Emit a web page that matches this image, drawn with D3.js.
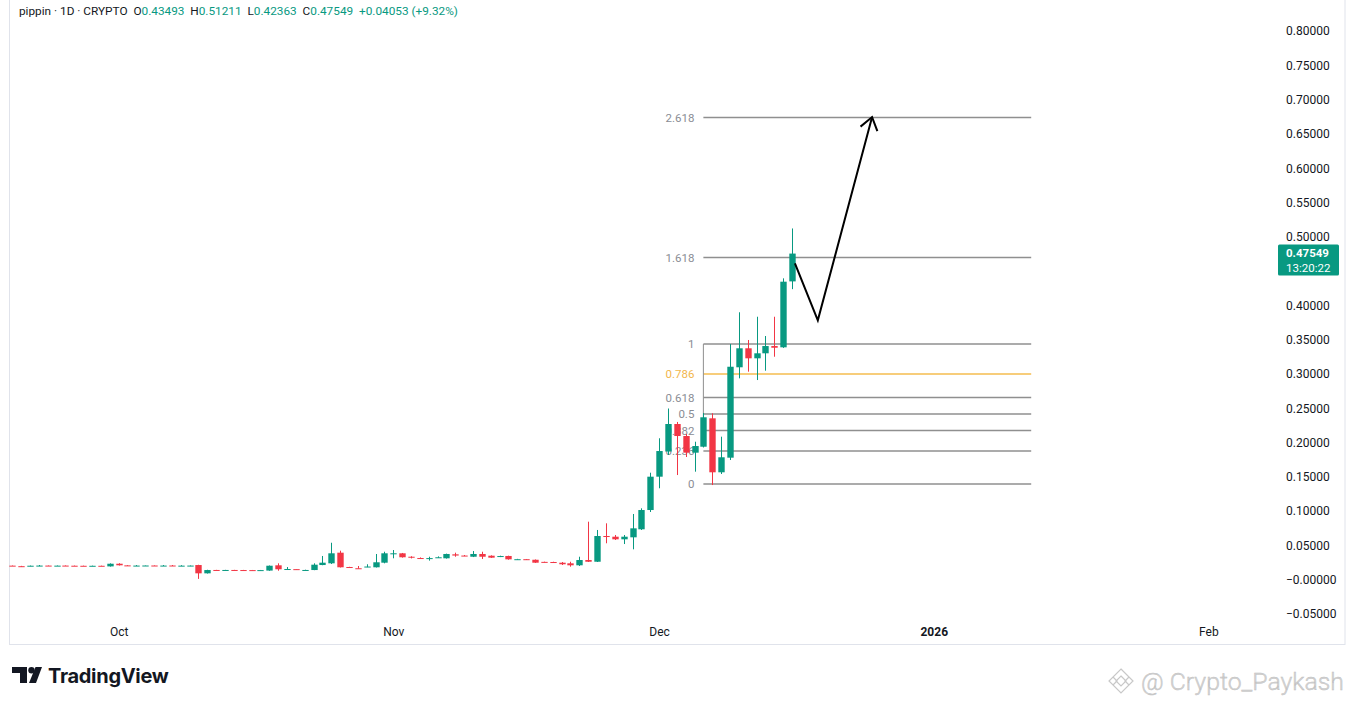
<!DOCTYPE html>
<html>
<head>
<meta charset="utf-8">
<script src="https://cdn.jsdelivr.net/npm/d3@7/dist/d3.min.js"></script>
<style>
  html, body { margin: 0; padding: 0; background: #ffffff; }
  svg { display: block; }
  text { font-family: Roboto, "Noto Sans", sans-serif; }
</style>
</head>
<body>
<svg id="chart" width="1354" height="705"></svg>
<script>
// ---------------- DATA ----------------
const startDate = "2025-09-19";
const endDate = "2025-12-16";
const openVals = [
  0.0205,0.0197,0.0199,0.0205,0.0206,0.0202,0.0206,0.0204,0.0203,0.0200,0.0203,0.0194,
  0.0233,0.0209,0.0203,0.0205,0.0207,0.0203,0.0207,0.0202,0.0205,0.0214,0.0093,0.0142,
  0.0140,0.0142,0.0141,0.0140,0.0138,0.0133,0.0210,0.0152,0.0154,0.0140,0.0141,0.0214,
  0.0239,0.0394,0.0185,0.0167,0.0186,0.0181,0.0248,
  0.0375,0.0385,0.0335,0.0316,0.0313,0.0325,0.0312,0.0370,0.0352,0.0335,0.0375,0.0350,
  0.0335,0.0346,0.0297,0.0299,0.0291,0.0260,0.0258,0.0248,0.0239,0.0210,0.0287,0.0262,
  0.0637,0.0627,0.0589,0.0618,0.0735,0.1016,
  0.1502,0.1869,0.2270,0.2095,0.1852,0.1939,0.2353,0.1566,0.1779,0.3097,0.3374,0.3228,
  0.3301,0.3407,0.3388,0.43493
];
const highVals = [
  0.0208,0.0202,0.0206,0.0214,0.0208,0.0207,0.0208,0.0206,0.0205,0.0205,0.0205,0.0238,
  0.0240,0.0212,0.0213,0.0209,0.0209,0.0214,0.0214,0.0211,0.0207,0.0218,0.0145,0.0144,
  0.0144,0.0144,0.0143,0.0142,0.0142,0.0207,0.0239,0.0185,0.0156,0.0146,0.0239,0.0346,
  0.0539,0.0423,0.0188,0.0200,0.0225,0.0375,0.0408,
  0.0433,0.0390,0.0342,0.0325,0.0335,0.0340,0.0380,0.0394,0.0360,0.0418,0.0408,0.0355,
  0.0350,0.0350,0.0304,0.0302,0.0295,0.0263,0.0262,0.0258,0.0262,0.0335,0.0846,0.0725,
  0.0822,0.0652,0.0652,0.0958,0.1041,0.1560,
  0.2062,0.2496,0.2300,0.2124,0.2012,0.2430,0.2426,0.2085,0.3436,0.3899,0.3495,0.3834,
  0.3553,0.3834,0.4394,0.51211
];
const lowVals = [
  0.0201,0.0190,0.0197,0.0198,0.0201,0.0200,0.0200,0.0199,0.0199,0.0198,0.0198,0.0191,
  0.0207,0.0201,0.0199,0.0203,0.0201,0.0200,0.0200,0.0199,0.0198,0.0012,0.0090,0.0138,
  0.0138,0.0138,0.0137,0.0136,0.0136,0.0130,0.0131,0.0148,0.0150,0.0138,0.0139,0.0211,
  0.0229,0.0178,0.0176,0.0161,0.0183,0.0178,0.0239,
  0.0312,0.0322,0.0310,0.0305,0.0278,0.0318,0.0308,0.0335,0.0344,0.0330,0.0302,0.0318,
  0.0330,0.0292,0.0293,0.0292,0.0245,0.0252,0.0250,0.0214,0.0190,0.0200,0.0258,0.0258,
  0.0531,0.0579,0.0520,0.0443,0.0725,0.0987,
  0.1333,0.1818,0.1526,0.1789,0.1575,0.1930,0.1380,0.1541,0.1745,0.2936,0.3033,0.2911,
  0.3047,0.3251,0.3380,0.42363
];
const closeVals = [
  0.0204,0.0196,0.0204,0.0206,0.0203,0.0205,0.0202,0.0201,0.0201,0.0203,0.0200,0.0233,
  0.0210,0.0204,0.0206,0.0207,0.0203,0.0206,0.0203,0.0205,0.0206,0.0093,0.0141,0.0140,
  0.0142,0.0140,0.0139,0.0138,0.0140,0.0204,0.0152,0.0156,0.0152,0.0142,0.0219,0.0248,
  0.0385,0.0181,0.0180,0.0165,0.0192,0.0254,0.0385,
  0.0385,0.0327,0.0325,0.0314,0.0315,0.0327,0.0375,0.0352,0.0350,0.0375,0.0335,0.0321,
  0.0345,0.0297,0.0299,0.0296,0.0248,0.0256,0.0253,0.0225,0.0210,0.0287,0.0262,0.0637,
  0.0623,0.0589,0.0627,0.0749,0.1016,0.1502,
  0.1876,0.2270,0.2095,0.1852,0.1949,0.2368,0.1566,0.1785,0.3105,0.3374,0.3228,0.3301,
  0.3407,0.3382,0.4345,0.47549
];

// 0.45 is hidden behind the last-price label in the reference
const yTickValues = [-0.05,0,0.05,0.10,0.15,0.20,0.25,0.30,0.35,0.40,0.50,0.55,0.60,0.65,0.70,0.75,0.80];
const xTickDates = ["2025-10-01","2025-11-01","2025-12-01","2026-01-01","2026-02-01"];
const xTickLabels = ["Oct","Nov","Dec","2026","Feb"];

// Fibonacci tool anchors and ratios
const fibLow = 0.1395, fibHigh = 0.3436;
const fibRatios = [0, 0.236, 0.382, 0.5, 0.618, 0.786, 1, 1.618, 2.618];
const fibLabels = ["0","0.236","0.382","0.5","0.618","0.786","1","1.618","2.618"];
const fibStart = "2025-12-06", fibEnd = "2026-01-12";

// Projection arrow (date, price)
const arrowDates = ["2025-12-16T08:00:00Z","2025-12-18T22:00:00Z","2025-12-25T01:00:00Z"];
const arrowPrices = [0.4612, 0.3781, 0.6745];

// Header
const symbolText = "pippin · 1D · CRYPTO";
const ohlcLabels = ["O","H","L","C"];
const ohlcValues = ["0.43493","0.51211","0.42363","0.47549"];
const changeText = "+0.04053 (+9.32%)";
const lastPrice = 0.47549, countdown = "13:20:22";

// ---------------- DRAW ----------------
const UP = "#089981", DOWN = "#f23645";
const svg = d3.select("#chart");
const parse = d3.utcParse("%Y-%m-%d");
const dates = d3.utcDay.range(parse(startDate), d3.utcDay.offset(parse(endDate), 1));
const candles = dates.map((d, i) => ({d, o: openVals[i], h: highVals[i], l: lowVals[i], c: closeVals[i]}));

const x = d3.scaleUtc().domain([parse("2025-09-19"), parse("2026-02-01")]).range([12.3, 1208.4]);
const y = d3.scaleLinear().domain([-0.05, 0.80]).range([614, 31]);
const dayW = x(parse("2025-09-20")) - x(parse("2025-09-19"));
const bodyW = dayW * 0.72;

// frame
svg.append("rect").attr("x", 9.5).attr("y", -1).attr("width", 1335.5).attr("height", 645.5)
  .attr("fill", "none").attr("stroke", "#e0e3eb").attr("stroke-width", 1);

// Y axis
const yAxis = d3.axisRight(y).tickValues(yTickValues).tickSize(0)
  .tickFormat(v => Math.abs(v) < 1e-9 ? "\u22120.00000" : d3.format(".5f")(v));
const ya = svg.append("g").attr("transform", "translate(1286,0)").call(yAxis);
ya.select(".domain").remove();
ya.selectAll("text").attr("x", 0).attr("fill", "#131722").style("font-size", "12px")
  .style("font-family", "Roboto, sans-serif");

// X axis
const xAxis = d3.axisBottom(x).tickValues(xTickDates.map(parse)).tickSize(0)
  .tickFormat((d, i) => xTickLabels[i]);
const xa = svg.append("g").attr("transform", "translate(0,624)").call(xAxis);
xa.select(".domain").remove();
xa.selectAll("text").attr("fill", "#131722").style("font-size", "12px")
  .style("font-weight", (d, i) => xTickLabels[i] === "2026" ? "bold" : "normal");

// Fib levels
const fx1 = x(parse(fibStart)), fx2 = x(parse(fibEnd));
const fib = fibRatios.map((r, i) => ({r, label: fibLabels[i], v: fibLow + r * (fibHigh - fibLow)}));
const fg = svg.append("g");
fg.selectAll("text").data(fib).join("text")
  .attr("x", fx1 - 9).attr("y", d => y(d.v)).attr("dy", "0.35em")
  .attr("text-anchor", "end").style("font-size", "11.5px")
  .attr("fill", d => d.r === 0.786 ? "#f2b64c" : "#8a8d95")
  .text(d => d.label);
fg.selectAll("line.lvl").data(fib).join("line").attr("class", "lvl")
  .attr("x1", fx1).attr("x2", fx2).attr("y1", d => y(d.v)).attr("y2", d => y(d.v))
  .attr("stroke", d => d.r === 0.786 ? "#f5bd4f" : "#8f8f8f").attr("stroke-width", 1.6);
fg.append("line").attr("x1", fx1).attr("x2", fx1).attr("y1", y(fibHigh)).attr("y2", y(0.193))
  .attr("stroke", "#8f8f8f").attr("stroke-width", 1);

// Candles
const cg = svg.append("g");
cg.selectAll("line").data(candles).join("line")
  .attr("x1", d => Math.round(x(d.d)) + 0.5).attr("x2", d => Math.round(x(d.d)) + 0.5)
  .attr("y1", d => y(d.h)).attr("y2", d => y(d.l))
  .attr("stroke", d => d.c >= d.o ? UP : DOWN).attr("stroke-width", 1);
cg.selectAll("rect").data(candles).join("rect")
  .attr("x", d => Math.round(x(d.d)) + 0.5 - bodyW / 2)
  .attr("y", d => y(Math.max(d.o, d.c)))
  .attr("width", bodyW)
  .attr("height", d => Math.max(1, Math.abs(y(d.o) - y(d.c))))
  .attr("fill", d => d.c >= d.o ? UP : DOWN);

// Arrow projection
const pts = arrowDates.map((s, i) => [x(new Date(s)), y(arrowPrices[i])]);
svg.append("path").attr("d", d3.line()(pts)).attr("fill", "none")
  .attr("stroke", "#000").attr("stroke-width", 2).attr("stroke-linejoin", "miter");
const tip = pts[2], prev = pts[1];
const ang = Math.atan2(tip[1] - prev[1], tip[0] - prev[0]);
const headLen = 15, spread = 0.62;
const h1 = [tip[0] - headLen * Math.cos(ang - spread), tip[1] - headLen * Math.sin(ang - spread)];
const h2 = [tip[0] - headLen * Math.cos(ang + spread), tip[1] - headLen * Math.sin(ang + spread)];
svg.append("path").attr("d", d3.line()([h1, tip, h2])).attr("fill", "none")
  .attr("stroke", "#000").attr("stroke-width", 2);

// Last price label
const ly = y(lastPrice);
svg.append("rect").attr("x", 1278).attr("y", ly - 9).attr("width", 61).attr("height", 31)
  .attr("rx", 1.5).attr("fill", UP);
svg.append("text").attr("x", 1286).attr("y", ly + 3).attr("fill", "#fff")
  .style("font-size", "11.5px").style("font-weight", "bold").text(lastPrice.toFixed(5));
svg.append("text").attr("x", 1286).attr("y", ly + 18).attr("fill", "#fff")
  .style("font-size", "11.5px").text(countdown);

// Header
const ht = svg.append("text").attr("x", 19).attr("y", 15).style("font-size", "11.8px").attr("fill", "#131722");
ht.append("tspan").text(symbolText + "  ");
ohlcLabels.forEach((l, i) => {
  ht.append("tspan").attr("fill", "#131722").text((i ? "  " : "") + l);
  ht.append("tspan").attr("fill", UP).text(ohlcValues[i]);
});
ht.append("tspan").attr("fill", UP).text("  " + changeText);
ht.attr("xml:space", "preserve");

// Footer: TradingView logo
const logo = svg.append("g").attr("transform", "translate(12,667)");
logo.append("path").attr("d", "M0,0 H15 V16 H8 V6 H0 Z").attr("fill", "#131722");
logo.append("circle").attr("cx", 19.5).attr("cy", 3.2).attr("r", 3.2).attr("fill", "#131722");
logo.append("path").attr("d", "M23.5,0 H30 L24,16 H17 Z").attr("fill", "#131722");
svg.append("text").attr("x", 48).attr("y", 683).attr("fill", "#131722")
  .style("font-size", "20px").style("font-weight", "700").style("font-family", "Inter, Roboto, sans-serif")
  .style("letter-spacing", "-0.3px").text("TradingView");

// Watermark
const wm = svg.append("g").attr("transform", "translate(1121,681)").attr("fill", "none")
  .attr("stroke", "#c8c8c8").attr("stroke-width", 1.2);
wm.append("path").attr("d", "M0,-12 L12,0 L0,12 L-12,0 Z");
wm.append("path").attr("d", "M0,-5 L5,0 L0,5 L-5,0 Z");
wm.append("path").attr("d", "M-8,-4 L-4,0 L-8,4 M8,-4 L4,0 L8,4");
svg.append("text").attr("x", 1141).attr("y", 690).attr("fill", "#d4d4d4")
  .attr("stroke", "#bdbdbd").attr("stroke-width", 0.4)
  .style("font-size", "24.8px").style("font-weight", "300").text("@ Crypto_Paykash");
</script>
</body>
</html>
